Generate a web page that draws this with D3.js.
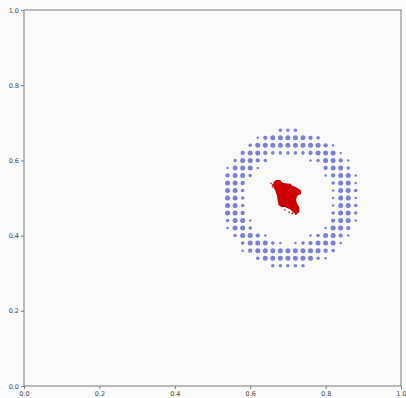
<!DOCTYPE html>
<html>
<head>
<meta charset="utf-8">
<script src="https://cdn.jsdelivr.net/npm/d3@7"></script>
<style>
  body { margin: 0; background: #fafafa; }
  svg { display: block; }
</style>
</head>
<body>
<div id="chart"></div>
<script>
const width = 406;
const height = 398;
const margin = { top: 10, right: 5, bottom: 12, left: 24 };

// ticks on both axes
const xTicks = [0.0, 0.2, 0.4, 0.6, 0.8, 1.0];
const yTicks = [0.0, 0.2, 0.4, 0.6, 0.8, 1.0];

// grid of the ring samples
const gridX = [0.54, 0.56, 0.58, 0.60, 0.62, 0.64, 0.66, 0.68, 0.70,
               0.72, 0.74, 0.76, 0.78, 0.80, 0.82, 0.84, 0.86, 0.88];
const gridY = [0.68, 0.66, 0.64, 0.62, 0.60, 0.58, 0.56, 0.54, 0.52, 0.50,
               0.48, 0.46, 0.44, 0.42, 0.40, 0.38, 0.36, 0.34, 0.32];

// weight of each grid point (one row per gridY, one char per gridX), '.' = no point
const weightRows = [
  ".......222........",
  "....134444432.....",
  "...244444444431...",
  "..34432222234441..",
  ".24432.....124431.",
  "14441........3442.",
  "3442.........13441",
  "443...........2441",
  "442...........1442",
  "442...........1441",
  "442...........1442",
  "443...........2442",
  "2441..........3441",
  "1442.........1443.",
  ".24431.....124431.",
  "..244421.1234441..",
  "..1344444444432...",
  "....2444444421....",
  "......22222......."
];

// red cluster outline and stray points
const clusterOutline = [
  [0.669, 0.546], [0.679, 0.546], [0.683, 0.541], [0.689, 0.538], [0.697, 0.537],
  [0.706, 0.536], [0.711, 0.531], [0.720, 0.528], [0.729, 0.522], [0.734, 0.519],
  [0.733, 0.511], [0.726, 0.509], [0.722, 0.503], [0.720, 0.495], [0.722, 0.486],
  [0.726, 0.480], [0.729, 0.473], [0.729, 0.464], [0.722, 0.458], [0.715, 0.463],
  [0.707, 0.471], [0.699, 0.475], [0.691, 0.478], [0.684, 0.477], [0.677, 0.482],
  [0.674, 0.495], [0.673, 0.504], [0.671, 0.512], [0.668, 0.521], [0.664, 0.527],
  [0.662, 0.535], [0.665, 0.543]
];
const clusterStray = [
  [0.655, 0.539], [0.659, 0.530], [0.659, 0.535], [0.692, 0.468], [0.703, 0.462],
  [0.712, 0.459], [0.721, 0.457], [0.710, 0.532]
];

const ringColor = '#7b7fd5';
const clusterColor = '#cc0000';
const axisColor = '#7a7a7a';
const textColor = '#444';

const svg = d3.select('#chart')
  .append('svg')
  .attr('width', width)
  .attr('height', height)
  .style('background', '#fafafa');

const x = d3.scaleLinear().domain([0, 1]).range([margin.left, width - margin.right]);
const y = d3.scaleLinear().domain([0, 1]).range([height - margin.bottom, margin.top]);
const r = d3.scaleSqrt().domain([0, 4]).range([0, 2.5]);

// flatten the weight grid
const ringPoints = [];
weightRows.forEach((row, j) => {
  row.split('').forEach((c, i) => {
    if (c !== '.') ringPoints.push({ x: gridX[i], y: gridY[j], w: +c });
  });
});

svg.append('g')
  .selectAll('circle')
  .data(ringPoints)
  .join('circle')
  .attr('cx', d => x(d.x))
  .attr('cy', d => y(d.y))
  .attr('r', d => r(d.w))
  .attr('fill', ringColor);

// red cluster
const line = d3.line().x(d => x(d[0])).y(d => y(d[1])).curve(d3.curveLinearClosed);
svg.append('path')
  .attr('d', line(clusterOutline))
  .attr('fill', clusterColor)
  .attr('stroke', clusterColor)
  .attr('stroke-width', 1.2)
  .attr('stroke-linejoin', 'round');

svg.append('g')
  .selectAll('circle')
  .data(clusterStray)
  .join('circle')
  .attr('cx', d => x(d[0]))
  .attr('cy', d => y(d[1]))
  .attr('r', 0.8)
  .attr('fill', clusterColor);

// frame
svg.append('rect')
  .attr('x', x(0))
  .attr('y', y(1))
  .attr('width', x(1) - x(0))
  .attr('height', y(0) - y(1))
  .attr('fill', 'none')
  .attr('stroke', axisColor)
  .attr('stroke-width', 1);

// axes
const fmt = d3.format('.1f');
const xAxis = svg.append('g')
  .attr('transform', `translate(0,${y(0)})`)
  .call(d3.axisBottom(x).tickValues(xTicks).tickFormat(fmt).tickSize(3).tickPadding(2));
const yAxis = svg.append('g')
  .attr('transform', `translate(${x(0)},0)`)
  .call(d3.axisLeft(y).tickValues(yTicks).tickFormat(fmt).tickSize(3).tickPadding(2));

[xAxis, yAxis].forEach(g => {
  g.select('.domain').remove();
  g.selectAll('line').attr('stroke', axisColor);
  g.selectAll('text')
    .attr('fill', textColor)
    .style('font-family', 'DejaVu Sans')
    .style('font-size', '6.5px');
});
</script>
</body>
</html>
